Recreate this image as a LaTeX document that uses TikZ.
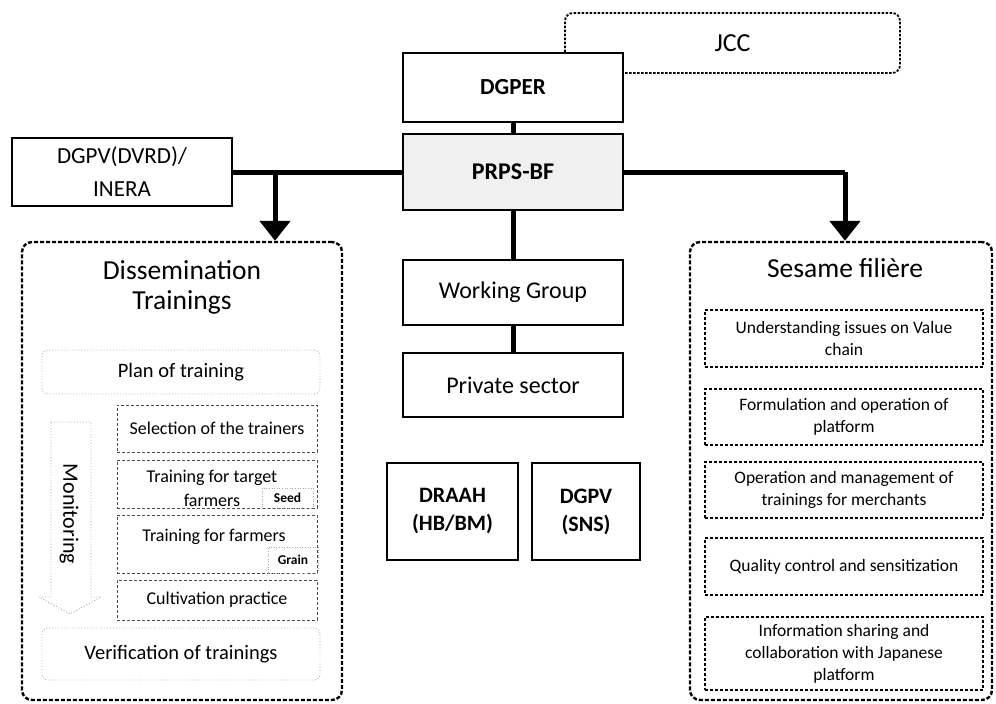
\documentclass[tikz,border=0pt]{standalone}
\usepackage{fontspec}
\setmainfont{Carlito}
\usetikzlibrary{arrows.meta}
\tikzset{
  x=1pt,y=-1pt,
  solidbox/.style={draw,line width=1.6pt,inner sep=0pt,align=center,fill=white,font=\fontsize{23}{33}\selectfont},
  outerbox/.style={draw,line width=2.4pt,dash pattern=on 4pt off 2pt,rounded corners=10pt,inner sep=0pt},
  jccbox/.style={draw,line width=1.8pt,dash pattern=on 2.5pt off 1.5pt,rounded corners=8pt,inner sep=0pt,font=\fontsize{26}{28}\selectfont},
  dotbox/.style={draw=gray!60,line width=0.9pt,dotted,rounded corners=6pt,inner sep=0pt,align=center,font=\fontsize{20.5}{24}\selectfont},
  midbox/.style={draw=black!70,line width=0.9pt,densely dashed,inner sep=0pt,align=center,font=\fontsize{18}{22}\selectfont},
  tagbox/.style={draw=gray!70,line width=0.6pt,dotted,inner sep=0pt,font=\bfseries\fontsize{13.5}{15}\selectfont},
  sesbox/.style={draw,line width=1.1pt,densely dashed,inner sep=0pt,align=center,font=\fontsize{17.5}{22}\selectfont},
  thick line/.style={line width=5pt},
  bigarrow/.style={line width=5pt,-{Triangle[width=30pt,length=20pt]}},
  titletext/.style={font=\fontsize{27.5}{30}\selectfont,align=center}
}
\begin{document}
\begin{tikzpicture}
\useasboundingbox (0,0) rectangle (996,704);
% JCC behind DGPER
\node[jccbox,minimum width=335pt,minimum height=60pt] (jcc) at (732.5,43) {JCC};
% central column
\node[solidbox,minimum width=220pt,minimum height=69pt,font=\bfseries\fontsize{23}{26}\selectfont] (dgper) at (513,87.5) {DGPER};
\node[solidbox,minimum width=220pt,minimum height=76pt,fill=gray!12,font=\bfseries\fontsize{24}{26}\selectfont] (prps) at (513,172) {PRPS-BF};
\node[solidbox,minimum width=220pt,minimum height=68pt] (dgpv) at (122,172) {DGPV(DVRD)/\\INERA};
\node[solidbox,minimum width=220pt,minimum height=65pt,font=\fontsize{24}{26}\selectfont] (wg) at (513,292.5) {Working Group};
\node[solidbox,minimum width=220pt,minimum height=64pt,font=\fontsize{24}{26}\selectfont] (ps) at (513,385) {Private sector};
\node[solidbox,minimum width=131pt,minimum height=97pt,font=\bfseries\fontsize{22}{28}\selectfont] (draah) at (452.5,511.5) {DRAAH\\(HB/BM)};
\node[solidbox,minimum width=108pt,minimum height=97pt,font=\bfseries\fontsize{22}{28}\selectfont] (dgpvs) at (586,511.5) {DGPV\\(SNS)};
% outer groups
\node[outerbox,minimum width=320pt,minimum height=458pt] (dis) at (182,471) {};
\node[outerbox,minimum width=302pt,minimum height=458pt] (ses) at (841,471) {};
\node[titletext] (distitle) at (182,287) {Dissemination\\Trainings};
\node[titletext] (sestitle) at (845,268) {Sesame filière};
% connectors
\draw[thick line] (dgper.south) -- (prps.north);
\draw[thick line] (prps.south) -- (wg.north);
\draw[thick line] (wg.south) -- (ps.north);
\draw[thick line] (dgpv.east) -- (dgpv.east -| prps.west);
\coordinate (jl) at (275,172);
\draw[bigarrow] (jl) -- (jl |- dis.north);
\coordinate (jr) at (845,172);
\draw[thick line] (prps.east) -- (jr);
\draw[bigarrow] (jr) -- (jr |- ses.north);
% dissemination inner
\node[dotbox,minimum width=278pt,minimum height=44pt] (plan) at (181,372) {Plan of training};
\node[midbox,minimum width=200pt,minimum height=47pt] (sel) at (217,428.5) {Selection of the trainers};
\node[midbox,minimum width=200pt,minimum height=48pt] (ttf) at (217,484) {};
\node[font=\fontsize{18}{24}\selectfont,align=center] (ttft) at (212,488) {Training for target\\farmers};
\node[tagbox,minimum width=51pt,minimum height=20pt] (seed) at (287.5,498) {Seed};
\node[midbox,minimum width=200pt,minimum height=58pt] (tf) at (217,544) {};
\node[font=\fontsize{18}{22}\selectfont] (tft) at (214,537) {Training for farmers};
\node[tagbox,minimum width=50pt,minimum height=26pt] (grain) at (293,560) {Grain};
\node[midbox,minimum width=200pt,minimum height=40pt] (cp) at (217,600) {Cultivation practice};
\node[dotbox,minimum width=278pt,minimum height=52pt] (ver) at (181,654) {Verification of trainings};
% monitoring arrow
\draw[draw=gray!70,line width=0.9pt,dotted] (51,422) -- (91,422) -- (91,597) -- (101,597) -- (70,614) -- (39,597) -- (51,597) -- cycle;
\node[rotate=-90,font=\fontsize{22}{24}\selectfont] (mon) at (69,514) {Monitoring};
% sesame inner
\node[sesbox,minimum width=278pt,minimum height=57pt] (s1) at (844,338.5) {Understanding issues on Value\\chain};
\node[sesbox,minimum width=278pt,minimum height=56pt] (s2) at (844,417) {Formulation and operation of\\platform};
\node[sesbox,minimum width=278pt,minimum height=56pt] (s3) at (844,490) {Operation and management of\\trainings for merchants};
\node[sesbox,minimum width=278pt,minimum height=57pt] (s4) at (844,566.5) {Quality control and sensitization};
\node[sesbox,minimum width=278pt,minimum height=73pt] (s5) at (844,653.5) {Information sharing and\\collaboration with Japanese\\platform};
\end{tikzpicture}
\end{document}
